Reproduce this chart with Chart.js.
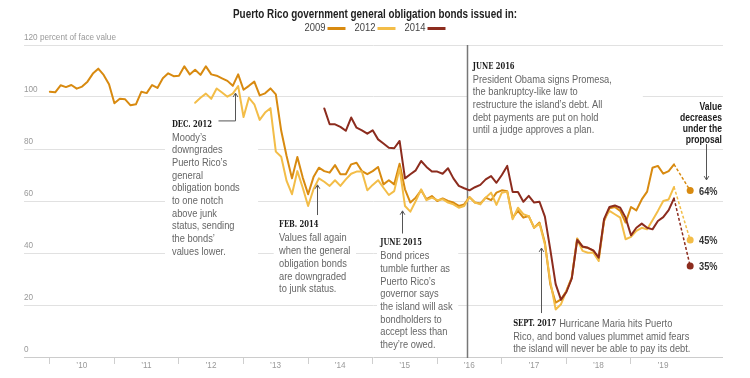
<!DOCTYPE html>
<html>
<head>
<meta charset="utf-8">
<title>Puerto Rico general obligation bonds</title>
<script src="https://cdn.jsdelivr.net/npm/chart.js@4.4.1/dist/chart.umd.min.js"></script>
<style>
html,body{margin:0;padding:0;background:#fff;}
#wrap{width:750px;height:378px;}
canvas{display:block;}
</style>
</head>
<body>
<div id="wrap"><canvas id="chart" width="750" height="378"></canvas></div>
<script>
// ---------------- DATA ----------------
const yearTickDates  = ['2010-01','2011-01','2012-01','2013-01','2014-01','2015-01','2016-01','2017-01','2018-01','2019-01'];
const yearTickLabels = ['\u201910','\u201911','\u201912','\u201913','\u201914','\u201915','\u201916','\u201917','\u201918','\u201919'];
const valueTicks = [0, 20, 40, 60, 80, 100, 120];

const seriesNames = ['2009', '2012', '2014'];
const seriesStart = ['2010-01', '2012-04', '2014-04'];   // first monthly observation

// percent of face value, monthly
const bonds2009 = [
  102.0,101.8,104.5,103.8,104.6,103.2,104.0,105.9,109.0,110.9,
  108.5,104.9, 97.6, 99.3, 99.1, 96.8, 97.2,102.0,101.5,104.6,
  103.5,107.2,109.1,108.0,108.2,111.8,108.7,110.5,108.5,111.8,
  108.7,108.2,107.2,106.2,104.3,108.7,102.8,104.3,105.9,100.6,
  101.4,103.3,101.0, 87.0, 77.3, 68.7, 76.9, 69.0, 62.6, 69.2,
   72.8, 71.5, 70.9, 73.8, 70.3, 70.3, 74.1, 74.7, 71.5, 70.3,
   71.5, 73.1, 66.4, 68.0, 66.4, 74.3, 64.5, 59.4, 61.3, 64.1,
   60.7, 61.9, 60.0, 61.0, 60.0, 59.4, 58.1, 58.7, 61.5, 59.4,
   59.0, 61.3, 60.3, 63.2, 64.1, 63.8, 53.6, 56.2, 53.6, 54.2,
   49.7, 51.7, 44.0, 28.0, 20.9, 22.2, 25.4, 30.5, 45.6, 42.3,
   42.0, 40.8, 38.0, 52.3, 57.2, 57.7, 56.2, 51.7, 57.7, 56.4,
   60.6, 63.6, 72.8, 73.5, 70.5, 71.5, 74.1
];
const bonds2012 = [
   97.8, 99.7,101.3, 99.3,103.3,101.7,100.1,101.3,104.2, 92.3,
   99.7, 97.2, 91.2, 94.0, 95.7, 79.0, 77.0, 67.7, 62.6, 71.5,
   65.1, 58.1, 64.5, 68.7, 67.4, 65.8, 68.0, 65.8, 68.3, 70.5,
   71.3, 71.3, 64.1, 66.2, 68.0, 65.1, 62.3, 63.8, 72.6, 58.1,
   55.9, 60.0, 64.5, 60.3, 61.3, 60.3, 60.7, 59.4, 58.7, 57.4,
   58.1, 61.5, 59.4, 58.7, 61.3, 63.2, 58.5, 63.2, 63.6, 53.0,
   57.4, 54.9, 54.2, 49.7, 51.3, 43.3, 29.2, 18.3, 20.3, 25.4,
   30.5, 45.3, 40.8, 40.1, 40.1, 36.9, 53.0, 56.2, 54.9, 53.6,
   45.3, 46.2, 48.5, 49.7, 49.1, 52.6, 56.2, 60.0, 60.6, 65.4
];
const bonds2014 = [
   95.6, 89.5, 89.5, 88.5, 87.0, 92.1, 88.2, 87.2, 85.9, 87.2,
   83.7, 82.1, 80.5, 80.3, 83.1, 68.7, 70.3, 71.8, 75.4, 73.1,
   71.3, 71.3, 70.5, 72.6, 68.7, 65.8, 64.9, 64.1, 65.3, 66.2,
   68.3, 69.6, 67.0, 70.0, 73.5, 63.5, 63.5, 59.7, 62.0, 59.4,
   59.7, 54.0, 41.4, 28.0, 22.0, 25.0, 30.2, 45.0, 42.5, 42.0,
   41.0, 38.2, 53.0, 57.7, 58.3, 57.4, 53.6, 46.8, 49.7, 51.3,
   49.7, 49.1, 52.3, 53.8, 56.5, 61.0
];
const proposalDate   = '2019-12';
const proposalValues = [64, 45, 35];
const proposalLabels = ['64%', '45%', '35%'];
const promesaDate    = '2016-06-15';

// ---------------- STYLE / LAYOUT ----------------
const seriesColors = ['#d88a10', '#f3bd48', '#8c2c1e'];
const seriesValues = [bonds2009, bonds2012, bonds2014];
const X_MIN = -4.8, X_MAX = 125.1;   // months since Jan 2010

function toMonth(s) {
  const p = s.split('-').map(Number);
  return (p[0] - 2010) * 12 + (p[1] - 1) + (p.length > 2 ? (p[2] - 1) / 30 : 0);
}

function fontOK(fam) {
  const c = document.createElement('canvas').getContext('2d');
  const s = 'abcdefghijklmnopqrstuvwxyz0123456789ABCDEF';
  c.font = '40px monospace'; const w1 = c.measureText(s).width;
  c.font = '40px "' + fam + '", monospace'; const w2 = c.measureText(s).width;
  return Math.abs(w1 - w2) > 0.5;
}
const SANS = fontOK('Liberation Sans Narrow') ? '"Liberation Sans Narrow", "Liberation Sans", sans-serif' : '"Liberation Sans", Arial, sans-serif';
const SERIF = fontOK('DejaVu Serif') ? '"DejaVu Serif", serif' : '"Liberation Serif", serif';

const mctx = document.createElement('canvas').getContext('2d');
function measure(text, font) { mctx.font = font; return mctx.measureText(text).width; }

const F_BODY  = '11px ' + SANS;
const F_TITLE = 'bold 12.5px ' + SANS;
const F_HEAD  = 'bold 9.5px ' + SERIF;
const F_BOLD  = 'bold 10.5px ' + SANS;
const F_PCT   = 'bold 11px ' + SANS;
const F_LEG   = '10.5px ' + SANS;

const TITLE = 'Puerto Rico government general obligation bonds issued in:';
const SX_BODY  = 139 / measure('President Obama signs Promesa,', F_BODY);
const SX_TITLE = 284 / measure(TITLE, F_TITLE);
const SX_HEAD  = 40 / measure('DEC. 2012', F_HEAD);
const SX_BOLD  = 42 / measure('decreases', F_BOLD);
const SX_PCT   = 18.5 / measure('64%', F_PCT);
const SX_LEG   = 21 / measure('2009', F_LEG);
const TICK_SIZE = Math.min(10.5, 10 * 92 / measure('120 percent of face value', '10px ' + SANS));

const notes = [
  { head: 'DEC. 2012',
    body: ['Moody\u2019s', 'downgrades', 'Puerto Rico\u2019s', 'general', 'obligation bonds', 'to one notch', 'above junk', 'status, sending', 'the bonds\u2019', 'values lower.'],
    at: [22.7, 89.6], box: [21.4, 38.7, 92.7, 38.1],
    arrow: [[31.3, 90.8], [34.4, 90.8], [34.4, 101.5]] },
  { head: 'FEB. 2014',
    body: ['Values fall again', 'when the general', 'obligation bonds', 'are downgraded', 'to junk status.'],
    at: [42.6, 50.8], box: [41.6, 56.9, 53.8, 23.5],
    arrow: [[49.6, 54.6], [49.6, 66.2]] },
  { head: 'JUNE 2015',
    body: ['Bond prices', 'tumble further as', 'Puerto Rico\u2019s', 'governor says', 'the island will ask', 'bondholders to', 'accept less than', 'they\u2019re owed.'],
    at: [61.4, 44.0], box: [60.8, 75.9, 46.9, 1.9],
    arrow: [[65.5, 47.5], [65.5, 56.2]] },
  { head: 'JUNE 2016',
    body: ['President Obama signs Promesa,', 'the bankruptcy-like law to', 'restructure the island\u2019s debt. All', 'debt payments are put on hold', 'until a judge approves a plan.'],
    at: [78.6, 111.9], box: [77.6, 110.2, 115.0, 84.2], arrow: null },
  { head: 'SEPT. 2017', inline: true,
    body: ['Hurricane Maria hits Puerto', 'Rico, and bond values plummet amid fears', 'the island will never be able to pay its debt.'],
    at: [86.1, 12.7], box: [85.1, 120.3, 15.4, 1.15],
    arrow: [[91.3, 16.9], [91.3, 41.9]] }
];
const proposalNote = { lines: ['Value', 'decreases', 'under the', 'proposal'], right: 124.9, top: 96.0,
                       arrow: [[121.95, 81.9], [121.95, 68.1]] };
const pctLabelMonth = 120.65;

// ---------------- DATASETS ----------------
const datasets = [];
seriesNames.forEach((name, i) => {
  const s0 = toMonth(seriesStart[i]);
  datasets.push({
    label: name,
    data: seriesValues[i].map((v, j) => ({ x: s0 + j, y: v })),
    borderColor: seriesColors[i], backgroundColor: seriesColors[i],
    borderWidth: 2, pointRadius: 0, tension: 0,
    borderJoinStyle: 'round', borderCapStyle: 'round',
    order: 3 - i
  });
});
seriesNames.forEach((name, i) => {
  const s0 = toMonth(seriesStart[i]);
  const vals = seriesValues[i];
  const last = vals.length - 1;
  datasets.push({
    label: name + ' proposal',
    data: [{ x: s0 + last, y: vals[last] }, { x: toMonth(proposalDate), y: proposalValues[i] }],
    borderColor: seriesColors[i], backgroundColor: seriesColors[i],
    borderWidth: 1.5, borderDash: [3, 2],
    pointRadius: [0, 3.5], pointBorderWidth: 0, pointBackgroundColor: seriesColors[i],
    tension: 0, order: 0
  });
});

// ---------------- DRAW HELPERS ----------------
function txt(ctx, s, x, y, font, color, align, sx) {
  ctx.save();
  ctx.font = font; ctx.fillStyle = color; ctx.textBaseline = 'middle'; ctx.textAlign = align || 'left';
  ctx.translate(x, y); ctx.scale(sx || 1, 1);
  ctx.fillText(s, 0, 0);
  ctx.restore();
  return measure(s, font) * (sx || 1);
}
function arrowPath(ctx, pts, color) {
  ctx.save();
  ctx.strokeStyle = color; ctx.lineWidth = 1;
  ctx.beginPath(); ctx.moveTo(pts[0][0], pts[0][1]);
  for (let i = 1; i < pts.length; i++) ctx.lineTo(pts[i][0], pts[i][1]);
  ctx.stroke();
  const [x1, y1] = pts[pts.length - 2], [x2, y2] = pts[pts.length - 1];
  const a = Math.atan2(y2 - y1, x2 - x1), L = 4.5, w = 0.55;
  ctx.beginPath();
  ctx.moveTo(x2 - L * Math.cos(a - w), y2 - L * Math.sin(a - w));
  ctx.lineTo(x2, y2);
  ctx.lineTo(x2 - L * Math.cos(a + w), y2 - L * Math.sin(a + w));
  ctx.stroke();
  ctx.restore();
}

const annotPlugin = {
  id: 'annot',
  beforeDatasetsDraw(chart) {
    const { ctx, chartArea } = chart;
    const xs = chart.scales.x, ys = chart.scales.y;
    ctx.save();
    ctx.fillStyle = '#ffffff';
    notes.forEach(n => {
      const X0 = xs.getPixelForValue(n.box[0]), X1 = xs.getPixelForValue(n.box[1]);
      const Y0 = ys.getPixelForValue(n.box[2]), Y1 = ys.getPixelForValue(n.box[3]);
      ctx.fillRect(X0, Y0, X1 - X0, Y1 - Y0);
    });
    const px = Math.round(xs.getPixelForValue(toMonth(promesaDate))) + 0.5;
    ctx.strokeStyle = '#777'; ctx.lineWidth = 1.5;
    ctx.beginPath(); ctx.moveTo(px, chartArea.top); ctx.lineTo(px, chartArea.bottom + 1); ctx.stroke();
    ctx.restore();
  },
  afterDatasetsDraw(chart) {
    const { ctx } = chart;
    const xs = chart.scales.x, ys = chart.scales.y;
    notes.forEach(n => {
      const X = xs.getPixelForValue(n.at[0]);
      const Y = ys.getPixelForValue(n.at[1]);
      const hw = txt(ctx, n.head, X, Y, F_HEAD, '#1a1a1a', 'left', SX_HEAD);
      if (n.inline) {
        txt(ctx, n.body[0], X + hw + 3, Y, F_BODY, '#666', 'left', SX_BODY);
        for (let i = 1; i < n.body.length; i++) txt(ctx, n.body[i], X, Y + i * 12.7, F_BODY, '#666', 'left', SX_BODY);
      } else {
        n.body.forEach((l, i) => txt(ctx, l, X, Y + 13.5 + i * 12.7, F_BODY, '#666', 'left', SX_BODY));
      }
      if (n.arrow) arrowPath(ctx, n.arrow.map(p => [Math.round(xs.getPixelForValue(p[0])) + 0.5, ys.getPixelForValue(p[1])]), '#555');
    });
    // proposal note
    const RX = xs.getPixelForValue(proposalNote.right);
    const TY = ys.getPixelForValue(proposalNote.top);
    proposalNote.lines.forEach((l, i) => txt(ctx, l, RX, TY + i * 11, F_BOLD, '#1a1a1a', 'right', SX_BOLD));
    arrowPath(ctx, proposalNote.arrow.map(p => [Math.round(xs.getPixelForValue(p[0])) + 0.5, ys.getPixelForValue(p[1])]), '#555');
    // percent labels
    proposalValues.forEach((v, i) => {
      txt(ctx, proposalLabels[i], xs.getPixelForValue(pctLabelMonth), ys.getPixelForValue(v) + 1, F_PCT, '#333', 'left', SX_PCT);
    });
  },
  afterDraw(chart) {
    const { ctx } = chart;
    txt(ctx, TITLE, 375, 15, F_TITLE, '#222', 'center', SX_TITLE);
    const sw = 18, gap = 2, sep = 9;
    const widths = seriesNames.map(n => measure(n, F_LEG) * SX_LEG);
    const total = widths.reduce((a, w) => a + w + gap + sw, 0) + sep * (seriesNames.length - 1);
    let x = 375 - total / 2;
    const y = 28.5;
    seriesNames.forEach((n, i) => {
      txt(ctx, n, x, y, F_LEG, '#444', 'left', SX_LEG);
      x += widths[i] + gap;
      ctx.save();
      ctx.strokeStyle = seriesColors[i]; ctx.lineWidth = 3;
      ctx.beginPath(); ctx.moveTo(x, y); ctx.lineTo(x + sw, y); ctx.stroke();
      ctx.restore();
      x += sw + sep;
    });
  }
};

// ---------------- CHART ----------------
const yearTickValues = yearTickDates.map(toMonth);
new Chart(document.getElementById('chart'), {
  type: 'line',
  data: { datasets },
  options: {
    responsive: false, animation: false, devicePixelRatio: 1,
    events: [],
    layout: { padding: { top: 45, right: 27, left: 0, bottom: 0 } },
    plugins: { legend: { display: false }, tooltip: { enabled: false }, title: { display: false } },
    scales: {
      x: {
        type: 'linear', min: X_MIN, max: X_MAX,
        afterBuildTicks: s => { s.ticks = yearTickValues.map(v => ({ value: v })); },
        afterFit: s => { s.height = 21; },
        grid: { drawOnChartArea: false, drawTicks: true, tickLength: 7, color: '#cfcfcf', lineWidth: 1 },
        border: { display: false },
        ticks: {
          autoSkip: false, maxRotation: 0, minRotation: 0, padding: -3, labelOffset: 32,
          color: '#999', font: { size: TICK_SIZE, family: SANS },
          callback: (v, i) => yearTickLabels[i]
        }
      },
      y: {
        min: 0, max: 120,
        afterBuildTicks: s => { s.ticks = valueTicks.map(v => ({ value: v })); },
        afterFit: s => { s.width = 24; },
        grid: { drawTicks: false, lineWidth: 1, color: ctx => (ctx.tick && ctx.tick.value === 0) ? '#cccccc' : '#e1e1e1' },
        border: { display: false },
        ticks: {
          mirror: true, padding: 0, labelOffset: -7,
          color: '#999', font: { size: TICK_SIZE, family: SANS },
          callback: v => v === 120 ? '120 percent of face value' : String(v)
        }
      }
    }
  },
  plugins: [annotPlugin]
});
</script>
</body>
</html>
